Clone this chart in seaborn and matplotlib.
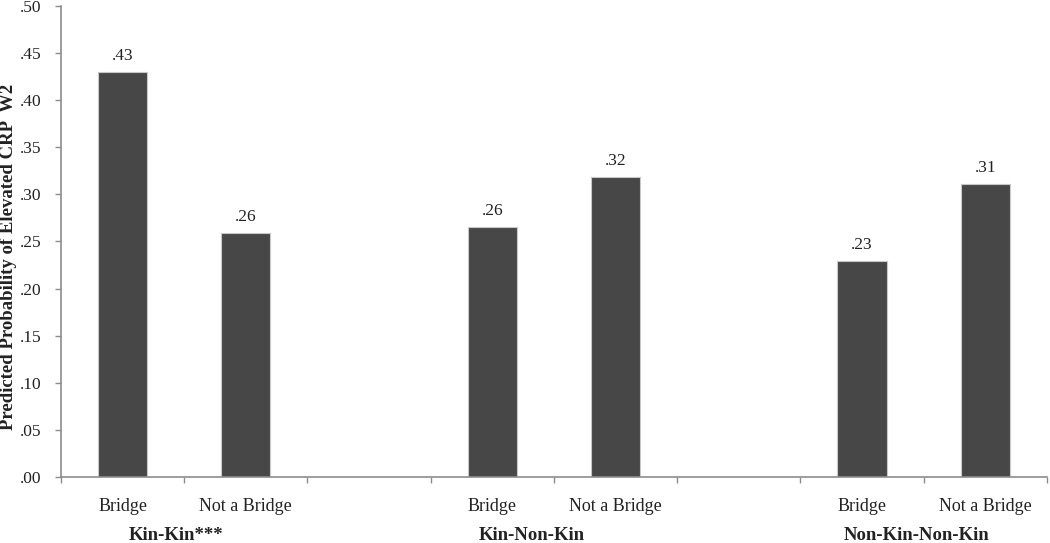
import numpy as np
import pandas as pd
import matplotlib
matplotlib.use('Agg')
import matplotlib.pyplot as plt
from matplotlib.ticker import FuncFormatter, FixedLocator
import seaborn as sns

# Data
groups = ['Kin-Kin***', 'Kin-Non-Kin', 'Non-Kin-Non-Kin']
bridge_status = ['Bridge', 'Not a Bridge']
probabilities = [0.430, 0.259, 0.265, 0.318, 0.229, 0.311]
value_labels = ['.43', '.26', '.26', '.32', '.23', '.31']

rows = []
i = 0
for g in groups:
    for b in bridge_status:
        rows.append({'slot': f'{g}|{b}', 'group': g, 'status': b, 'prob': probabilities[i]})
        i += 1
df = pd.DataFrame(rows)

# category order with empty spacer slots between the groups
order = []
for k, g in enumerate(groups):
    order += [f'{g}|{b}' for b in bridge_status]
    if k < len(groups) - 1:
        order.append(f'gap{k}')

sns.set_theme(style='white')
plt.rcParams['font.family'] = ['Liberation Serif', 'DejaVu Serif']

fig = plt.figure(figsize=(10.5, 5.43), dpi=100)
ax = fig.add_axes([0.058, 0.1215, 0.939, 0.8675])

sns.barplot(data=df, x='slot', y='prob', order=order, color='#474747',
            width=0.4, edgecolor='#c8c8c8', linewidth=0.8, saturation=1, ax=ax)

for container in ax.containers:
    ax.bar_label(container, labels=value_labels, padding=6, fontsize=12.5, color='#222222')

ax.set_xlim(-0.5, len(order) - 0.5)
ax.set_ylim(0, 0.5)
ax.set_yticks(np.arange(0, 0.51, 0.05))
ax.yaxis.set_major_formatter(FuncFormatter(lambda v, p: f'{v:.2f}'.lstrip('0')))

# tick marks at slot boundaries, labels at bar centres
centres = [order.index(s) for s in df['slot']]
ax.xaxis.set_major_locator(FixedLocator(np.arange(-0.5, len(order), 1.0)))
ax.xaxis.set_major_formatter(FuncFormatter(lambda v, p: ''))
ax.xaxis.set_minor_locator(FixedLocator(centres))
ax.set_xticks(centres, labels=list(df['status']), minor=True)
ax.tick_params(axis='x', which='minor', length=0, pad=15, labelsize=13, labelcolor='#222222')
ax.tick_params(axis='x', which='major', direction='out', length=4, width=1, color='#8c8c8c', bottom=True)
ax.tick_params(axis='y', direction='out', length=4, width=1, color='#8c8c8c', left=True,
               pad=10, labelsize=12.5, labelcolor='#222222')

ax.set_xlabel('')
ax.set_ylabel('Predicted Probability of Elevated CRP  W2', fontsize=13.5, fontweight='bold',
              color='#222222')
ax.yaxis.set_label_coords(-0.045, 0.467)

for s in ['top', 'right']:
    ax.spines[s].set_visible(False)
for s in ['left', 'bottom']:
    ax.spines[s].set_color('#8c8c8c')
    ax.spines[s].set_linewidth(1.2)

# group labels under the bar labels
group_x = [0.43, 3.32, 6.44]
for g, gx in zip(groups, group_x):
    ax.text(gx, -0.062, g, ha='center', va='center', fontsize=13.5, fontweight='bold',
            color='#222222', clip_on=False)

fig.savefig('out.png', dpi=100)
